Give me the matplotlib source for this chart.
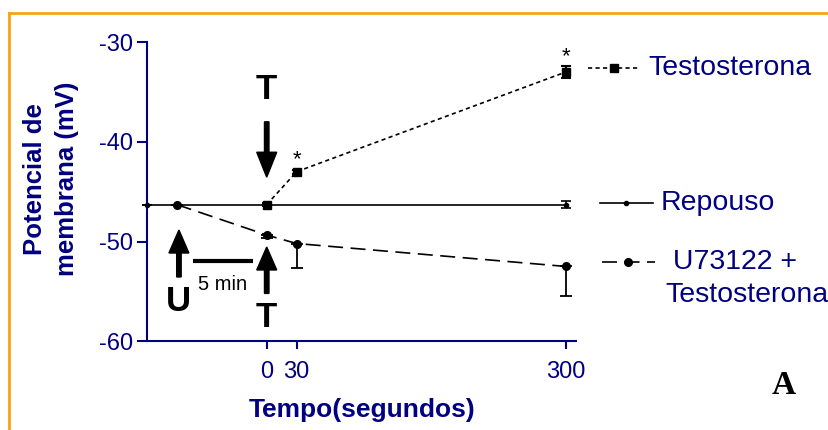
import matplotlib
matplotlib.use("Agg")
import matplotlib.pyplot as plt
from matplotlib.lines import Line2D

plt.rcParams['font.family'] = ['Liberation Sans', 'DejaVu Sans']
plt.rcParams['axes.unicode_minus'] = False

NAVY = '#000080'
W, H = 829, 430

# data (time in s, membrane potential in mV)
rep_x = [-120, 300]
rep_y = [-46.3, -46.3]
rep_err = [0.0, 0.33]

testo_x = [0, 30, 300]
testo_y = [-46.3, -43.0, -33.0]
testo_err = [0.15, 0.2, 0.6]

u_x = [-90, 0, 30, 300]
u_y = [-46.3, -49.35, -50.2, -52.5]
u_err_low = [0.0, 0.25, 2.5, 3.0]
u_err_up = [0.0, 0.0, 0.0, 0.0]

star_x = [30, 300]
star_y = [-41.8, -31.5]

xticks = [0, 30, 300]
yticks = [-30, -40, -50, -60]


def fx(px):
    return px / W


def fy(py):
    return 1 - py / H


fig = plt.figure(figsize=(W / 100, H / 100), dpi=100)
ax = fig.add_axes([fx(147), fy(341.3), 429 / W, 299.3 / H])
ax.set_xlim(-120, 310)
ax.set_ylim(-60, -30)

# series
ax.errorbar(rep_x, rep_y, yerr=rep_err, color='black', lw=1.2, marker='o', ms=3,
            capsize=3.5, elinewidth=1.2, capthick=1.2, clip_on=False, zorder=3)
ax.errorbar(testo_x, testo_y, yerr=testo_err, color='black', lw=1.2, marker='s', ms=5.5,
            capsize=3.5, elinewidth=1.5, capthick=1.5, dashes=(2.5, 2), clip_on=False, zorder=4)
ax.errorbar(u_x, u_y, yerr=[u_err_low, u_err_up], color='black', lw=1.2, marker='o', ms=5.5,
            capsize=4.5, elinewidth=1.3, capthick=1.3, dashes=(9, 4.5), clip_on=False, zorder=4)

for sx, sy in zip(star_x, star_y):
    ax.text(sx, sy, '*', ha='center', va='center', fontsize=16)

# arrows and labels of the protocol
ax.arrow(0, -38.0, 0, -5.55, width=4.5, head_width=20, head_length=2.5,
         length_includes_head=True, color='black', zorder=5)
ax.arrow(0, -55.2, 0, 4.65, width=4.5, head_width=20, head_length=2.3,
         length_includes_head=True, color='black', zorder=5)
ax.arrow(-88, -53.55, 0, 4.7, width=4.5, head_width=20, head_length=2.3,
         length_includes_head=True, color='black', zorder=5)
ax.plot([-74.2, -13.6], [-51.94, -51.94], color='black', lw=3, solid_capstyle='butt')
ax.text(-43.8, -54.3, '5 min', ha='center', va='center', fontsize=14.5)
ax.text(0, -34.8, 'T', ha='center', va='center', fontsize=25, fontweight='bold')
ax.text(0, -57.6, 'T', ha='center', va='center', fontsize=25, fontweight='bold')
ax.text(-88, -56.0, 'U', ha='center', va='center', fontsize=25, fontweight='bold')

# axes styling
for side in ['top', 'right']:
    ax.spines[side].set_visible(False)
for side in ['left', 'bottom']:
    ax.spines[side].set_color(NAVY)
    ax.spines[side].set_linewidth(1.5)
ax.set_xticks(xticks)
ax.set_yticks(yticks)
ax.tick_params(axis='y', colors=NAVY, labelcolor=NAVY, labelsize=17, length=7, width=1.5, pad=3)
ax.tick_params(axis='x', colors=NAVY, labelcolor=NAVY, labelsize=17, length=6, width=1.5, pad=8)

fig.text(fx(362), fy(410), 'Tempo(segundos)', ha='center', va='center',
         fontsize=19, fontweight='bold', color=NAVY)
fig.text(fx(51), fy(179), 'Potencial de\nmembrana (mV)', ha='center', va='center',
         rotation=90, fontsize=18.5, fontweight='bold', color=NAVY,
         multialignment='center', linespacing=1.45)

# hand-placed legend
leg_rows = [
    (588, 640, 614, 68.3, 's', 5.5, (2.5, 2)),
    (600, 653, 626, 203.3, 'o', 3, None),
    (602, 655, 628, 262, 'o', 5.5, (9, 4.5)),
]
for x0, x1, xm, yy, mk, ms, ds in leg_rows:
    ln = Line2D([fx(x0), fx(x1)], [fy(yy), fy(yy)], color='black', lw=1.2,
                transform=fig.transFigure)
    if ds is not None:
        ln.set_dashes(ds)
    fig.add_artist(ln)
    fig.add_artist(Line2D([fx(xm)], [fy(yy)], marker=mk, ms=ms, color='black',
                          transform=fig.transFigure))
fig.text(fx(648), fy(68), 'Testosterona', ha='left', va='center', fontsize=20.5, color=NAVY)
fig.text(fx(661), fy(203), 'Repouso', ha='left', va='center', fontsize=20.5, color=NAVY)
fig.text(fx(665), fy(262), ' U73122 +', ha='left', va='center', fontsize=20.5, color=NAVY)
fig.text(fx(665), fy(295), 'Testosterona', ha='left', va='center', fontsize=20.5, color=NAVY)

fig.text(fx(784), fy(385), 'A', ha='center', va='center', fontsize=24,
         fontweight='bold', family='Liberation Serif')

# orange frame lines (top and left)
fig.add_artist(Line2D([fx(9), 1], [fy(13), fy(13)], color='#f7a21b', lw=2,
                      transform=fig.transFigure))
fig.add_artist(Line2D([fx(9), fx(9)], [fy(13), 0], color='#f7a21b', lw=2,
                      transform=fig.transFigure))

fig.savefig('out.png', dpi=100)
